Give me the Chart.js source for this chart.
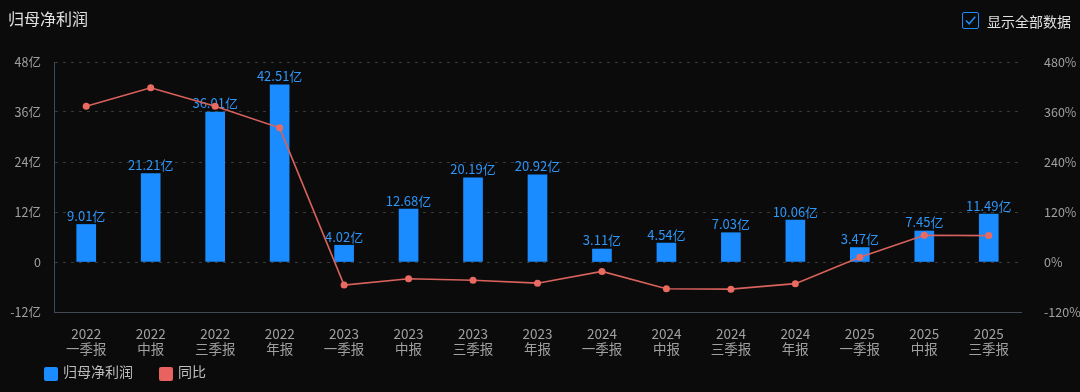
<!DOCTYPE html>
<html><head><meta charset="utf-8">
<script src="https://cdn.jsdelivr.net/npm/chart.js@4"></script>
<style>
html,body{margin:0;padding:0;background:#0b0b0b;width:1080px;height:392px;overflow:hidden;font-family:"Noto Sans CJK SC","Noto Sans",sans-serif}
#wrap{position:absolute;left:0;top:0;width:1080px;height:392px}
.title{position:absolute;left:8px;top:6px;color:#e0e0e0;font-size:16px;line-height:24px}
.chk{position:absolute;left:962px;top:12px;width:17px;height:17px;border:1px solid #1a8cff;border-radius:2px;box-sizing:border-box}
.chkt{position:absolute;left:987px;top:10px;color:#e0e0e0;font-size:14px;line-height:22px}
.lg{position:absolute;top:366px;height:15px;font-size:14px;line-height:15px;color:#bdbdbd}
.lg i{position:absolute;left:0;top:1px;width:14px;height:14px;border-radius:2px}
.lg span{position:absolute;left:19px;top:-2px;white-space:nowrap}
</style></head>
<body>
<div id="wrap"><canvas id="c" width="1080" height="392"></canvas></div>
<div class="title">归母净利润</div>
<div class="chk"><svg width="15" height="15" viewBox="0 0 15 15" style="position:absolute;left:0;top:0"><path d="M3 7.5 L6.2 10.8 L12.2 3.8" stroke="#1a8cff" stroke-width="1.6" fill="none"/></svg></div>
<div class="chkt">显示全部数据</div>
<div class="lg" style="left:44px"><i style="background:#1a8cff"></i><span>归母净利润</span></div>
<div class="lg" style="left:159px"><i style="background:#e8625f"></i><span>同比</span></div>
<script>
const categories = [['2022','一季报'],['2022','中报'],['2022','三季报'],['2022','年报'],['2023','一季报'],['2023','中报'],['2023','三季报'],['2023','年报'],['2024','一季报'],['2024','中报'],['2024','三季报'],['2024','年报'],['2025','一季报'],['2025','中报'],['2025','三季报']];
const profit = [9.01,21.21,36.01,42.51,4.02,12.68,20.19,20.92,3.11,4.54,7.03,10.06,3.47,7.45,11.49];
const yoy = [374,418,374,322,-55.4,-40.2,-43.9,-50.8,-22.6,-64.2,-65.2,-51.9,11.6,64.1,63.4];
const leftTicks = [-12,0,12,24,36,48];
const rightTicks = [-120,0,120,240,360,480];

const labelPlugin = {
  id:'barLabels',
  afterDatasetDraw(chart,args){
    if(args.index!==0) return;
    const ctx=chart.ctx;
    ctx.save();
    ctx.font='13px "Noto Sans CJK SC"';
    ctx.fillStyle='#2f95f7';
    ctx.textAlign='center';
    ctx.textBaseline='bottom';
    args.meta.data.forEach((el,i)=>{
      ctx.fillText(profit[i].toFixed(2)+'亿', el.x, el.y-2);
    });
    ctx.restore();
  }
};
const bg={id:'bg',beforeDraw(c){const x=c.ctx;x.save();x.fillStyle='#0b0b0b';x.fillRect(0,0,c.width,c.height);x.restore();}};

new Chart(document.getElementById('c'),{
  data:{labels:categories,datasets:[
    {type:'bar',label:'归母净利润',data:profit,backgroundColor:'#1a8cff',barThickness:19,yAxisID:'y',order:1},
    {type:'line',label:'同比',data:yoy,borderColor:'#d9625c',backgroundColor:'#e8625f',borderWidth:1.6,pointRadius:3.5,pointBorderWidth:0,pointBackgroundColor:'#ea6a62',tension:0,yAxisID:'y1',order:0}
  ]},
  options:{
    responsive:false,animation:false,
    layout:{padding:{left:0,right:0,top:62,bottom:34}},
    plugins:{legend:{display:false},tooltip:{enabled:false}},
    scales:{
      x:{grid:{display:false},border:{display:true,color:'#444b55',width:1},
        ticks:{color:'#a0a0a0',font:{size:13.5,family:'"Noto Sans CJK SC"',lineHeight:1.15},padding:6,maxRotation:0,autoSkip:false},
        afterFit(s){s.height=46;}},
      y:{position:'left',min:-12,max:48,afterBuildTicks(s){s.ticks=leftTicks.map(v=>({value:v}));},
        grid:{color:'#3a3a3a',drawTicks:false,tickLength:0},border:{display:true,color:'#3d4a5a',dash:[3,5]},
        ticks:{color:'#a0a0a0',font:{size:12.5,family:'"Noto Sans CJK SC"'},padding:13,callback:v=>v===0?'0':v+'亿'},
        afterFit(s){s.width=54;}},
      y1:{position:'right',min:-120,max:480,afterBuildTicks(s){s.ticks=rightTicks.map(v=>({value:v}));},
        grid:{display:false},border:{display:false},
        ticks:{color:'#a0a0a0',font:{size:12.5,family:'"Noto Sans CJK SC"'},padding:15,callback:v=>v+'%'},
        afterFit(s){s.width=59;}}
    }
  },
  plugins:[bg,labelPlugin]
});
</script>
</body></html>
